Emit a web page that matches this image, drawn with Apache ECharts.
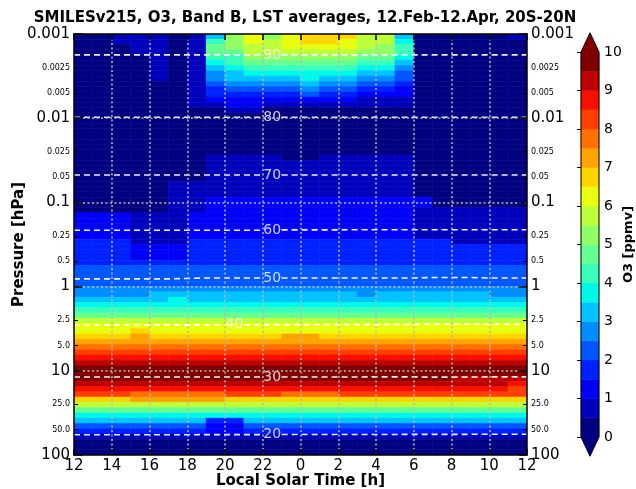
<!DOCTYPE html>
<html>
<head>
<meta charset="utf-8">
<script src="https://cdn.jsdelivr.net/npm/echarts@6/dist/echarts.min.js"></script>
<style>
  html, body { margin: 0; padding: 0; background: #ffffff; }
  #chart { width: 636px; height: 489px; }
</style>
</head>
<body>
<div id="chart"></div>
<script>
const FONT = 'DejaVu Sans';

// Local solar time bins, 1 h wide, starting at 12 h (values >= 24 are the next day)
const lstBins = [12, 13, 14, 15, 16, 17, 18, 19, 20, 21, 22, 23,
                 24, 25, 26, 27, 28, 29, 30, 31, 32, 33, 34, 35];

// Retrieval pressure grid: rows from 0.001 hPa downwards, 16 rows per decade
const gridTopHpa = 0.001;
const levelsPerDecade = 16;

// O3 volume mixing ratio [ppmv], one row per pressure level, 24 LST columns
const o3Mesosphere = [
  [0.3, 0.3, 0.8, 0.8, 0.8, 0.3, 0.8, 3.3, 5.3, 6.3, 5.3, 6.3, 6.8, 6.8, 6.8, 5.8, 5.8, 3.3, 0.3, 0.3, 0.3, 0.3, 0.3, 0.8],
  [0.3, 0.3, 0.8, 0.8, 0.8, 0.3, 0.8, 4.3, 5.3, 6.3, 5.8, 6.3, 6.8, 6.8, 6.3, 5.8, 5.8, 3.8, 0.3, 0.3, 0.3, 0.3, 0.3, 0.3],
  [0.3, 0.3, 0.3, 0.8, 0.8, 0.3, 0.8, 4.8, 5.3, 5.8, 5.8, 6.3, 6.3, 6.3, 6.3, 5.8, 5.3, 4.3, 0.3, 0.3, 0.3, 0.3, 0.3, 0.3],
  [0.3, 0.3, 0.3, 0.8, 0.8, 0.3, 0.8, 4.8, 4.8, 5.8, 5.8, 5.8, 5.8, 5.8, 5.8, 5.3, 5.3, 4.3, 0.3, 0.3, 0.3, 0.3, 0.3, 0.3],
  [0.3, 0.3, 0.3, 0.3, 0.8, 0.3, 0.8, 4.3, 4.3, 5.3, 5.3, 5.3, 5.3, 5.3, 5.3, 4.8, 4.8, 3.8, 0.3, 0.3, 0.3, 0.3, 0.3, 0.3],
  [0.3, 0.3, 0.3, 0.3, 0.8, 0.3, 0.8, 3.8, 4.3, 4.8, 4.8, 4.8, 4.8, 4.8, 4.8, 4.3, 4.3, 3.3, 0.3, 0.3, 0.3, 0.3, 0.3, 0.3],
  [0.3, 0.3, 0.3, 0.3, 0.8, 0.3, 0.8, 3.3, 3.8, 4.3, 4.3, 4.3, 4.3, 4.3, 4.3, 3.8, 3.8, 2.8, 0.3, 0.3, 0.3, 0.3, 0.3, 0.3],
  [0.3, 0.3, 0.3, 0.3, 0.8, 0.3, 0.8, 2.8, 3.3, 3.8, 3.8, 3.8, 3.8, 3.8, 3.8, 3.3, 3.3, 2.3, 0.3, 0.3, 0.3, 0.3, 0.3, 0.3],
  [0.3, 0.3, 0.3, 0.3, 0.8, 0.3, 0.8, 2.8, 3.3, 3.3, 3.3, 3.3, 3.8, 3.3, 3.3, 2.8, 2.8, 2.3, 0.3, 0.3, 0.3, 0.3, 0.3, 0.3],
  [0.3, 0.3, 0.3, 0.3, 0.3, 0.3, 0.8, 2.3, 2.8, 2.8, 2.8, 2.8, 3.3, 2.8, 2.8, 2.3, 2.3, 1.8, 0.3, 0.3, 0.3, 0.3, 0.3, 0.3],
  [0.3, 0.3, 0.3, 0.3, 0.3, 0.3, 0.8, 1.8, 2.3, 2.3, 2.3, 2.3, 2.8, 2.3, 2.3, 1.8, 1.8, 1.3, 0.3, 0.3, 0.3, 0.3, 0.3, 0.3],
  [0.3, 0.3, 0.3, 0.3, 0.3, 0.3, 0.8, 1.8, 1.8, 1.8, 1.8, 1.8, 2.3, 1.8, 1.8, 1.3, 1.3, 1.3, 0.3, 0.3, 0.3, 0.3, 0.3, 0.3],
  [0.3, 0.3, 0.3, 0.3, 0.3, 0.3, 0.8, 1.3, 1.3, 1.3, 1.3, 1.3, 1.3, 1.3, 1.3, 0.8, 0.8, 0.8, 0.3, 0.3, 0.3, 0.3, 0.3, 0.3],
  [0.3, 0.3, 0.3, 0.3, 0.3, 0.3, 0.8, 0.8, 1.3, 1.3, 0.8, 0.8, 0.8, 0.8, 0.8, 0.8, 0.8, 0.8, 0.3, 0.3, 0.3, 0.3, 0.3, 0.3],
  [0.3, 0.3, 0.3, 0.3, 0.3, 0.3, 0.3, 0.3, 0.8, 0.8, 0.3, 0.3, 0.3, 0.3, 0.3, 0.3, 0.3, 0.3, 0.3, 0.3, 0.3, 0.3, 0.3, 0.3],
  [0.3, 0.3, 0.3, 0.3, 0.3, 0.3, 0.3, 0.3, 0.3, 0.3, 0.3, 0.3, 0.3, 0.3, 0.3, 0.3, 0.3, 0.3, 0.3, 0.3, 0.3, 0.3, 0.3, 0.3],
  [0.3, 0.3, 0.3, 0.3, 0.3, 0.3, 0.3, 0.3, 0.3, 0.3, 0.3, 0.3, 0.3, 0.3, 0.3, 0.3, 0.3, 0.3, 0.3, 0.3, 0.3, 0.3, 0.3, 0.3],
  [0.3, 0.3, 0.3, 0.3, 0.3, 0.3, 0.3, 0.3, 0.3, 0.3, 0.3, 0.3, 0.3, 0.3, 0.3, 0.3, 0.3, 0.3, 0.3, 0.3, 0.3, 0.3, 0.3, 0.3],
  [0.3, 0.3, 0.3, 0.3, 0.3, 0.3, 0.3, 0.3, 0.3, 0.3, 0.3, 0.3, 0.3, 0.3, 0.3, 0.3, 0.3, 0.3, 0.3, 0.3, 0.3, 0.3, 0.3, 0.3],
  [0.3, 0.3, 0.3, 0.3, 0.3, 0.3, 0.3, 0.3, 0.3, 0.3, 0.3, 0.3, 0.3, 0.3, 0.3, 0.3, 0.3, 0.3, 0.3, 0.3, 0.3, 0.3, 0.3, 0.3],
  [0.3, 0.3, 0.3, 0.3, 0.3, 0.3, 0.3, 0.3, 0.3, 0.3, 0.3, 0.3, 0.3, 0.3, 0.3, 0.3, 0.3, 0.3, 0.3, 0.3, 0.3, 0.3, 0.3, 0.3],
  [0.3, 0.3, 0.3, 0.3, 0.3, 0.3, 0.3, 0.3, 0.3, 0.3, 0.3, 0.3, 0.3, 0.3, 0.3, 0.3, 0.3, 0.3, 0.3, 0.3, 0.3, 0.3, 0.3, 0.3],
  [0.3, 0.3, 0.3, 0.3, 0.3, 0.3, 0.3, 0.3, 0.3, 0.3, 0.3, 0.3, 0.3, 0.3, 0.3, 0.3, 0.3, 0.3, 0.3, 0.3, 0.3, 0.3, 0.3, 0.3],
  [0.3, 0.3, 0.3, 0.3, 0.3, 0.3, 0.3, 0.8, 0.8, 0.8, 0.8, 0.3, 0.3, 0.8, 0.8, 0.8, 0.8, 0.8, 0.3, 0.3, 0.3, 0.3, 0.3, 0.3],
  [0.3, 0.3, 0.3, 0.3, 0.3, 0.3, 0.3, 0.8, 0.8, 0.8, 0.8, 0.8, 0.8, 0.8, 0.8, 0.8, 0.8, 0.8, 0.3, 0.3, 0.3, 0.3, 0.3, 0.3],
  [0.3, 0.3, 0.3, 0.3, 0.3, 0.3, 0.3, 0.8, 0.8, 0.8, 0.8, 0.8, 0.8, 0.8, 0.8, 0.8, 0.8, 0.8, 0.3, 0.3, 0.3, 0.3, 0.3, 0.3],
  [0.3, 0.3, 0.3, 0.3, 0.3, 0.3, 0.3, 0.8, 0.8, 0.8, 0.8, 0.8, 0.8, 0.8, 0.8, 0.8, 0.8, 0.8, 0.3, 0.3, 0.3, 0.3, 0.3, 0.3],
  [0.3, 0.3, 0.3, 0.3, 0.3, 0.3, 0.3, 0.8, 0.8, 0.8, 0.8, 0.8, 0.8, 0.8, 0.8, 0.8, 0.8, 0.8, 0.3, 0.3, 0.3, 0.3, 0.3, 0.3],
  [0.3, 0.3, 0.3, 0.3, 0.3, 0.8, 0.8, 0.8, 0.8, 0.8, 0.8, 0.8, 0.8, 0.8, 0.8, 0.8, 0.8, 0.8, 0.3, 0.3, 0.3, 0.3, 0.3, 0.3],
  [0.3, 0.3, 0.3, 0.3, 0.3, 0.8, 0.8, 0.8, 0.8, 0.8, 0.8, 0.8, 0.8, 0.8, 0.8, 0.8, 0.8, 0.8, 0.3, 0.3, 0.3, 0.3, 0.3, 0.3],
  [0.3, 0.3, 0.3, 0.3, 0.3, 0.8, 0.8, 0.8, 0.8, 0.8, 0.8, 0.8, 0.8, 0.8, 0.8, 0.8, 0.8, 0.8, 0.3, 0.3, 0.3, 0.3, 0.3, 0.3],
  [0.3, 0.3, 0.3, 0.3, 0.3, 0.8, 0.8, 1.3, 1.3, 1.3, 1.3, 1.3, 1.3, 1.3, 1.3, 1.3, 1.3, 1.3, 1.3, 0.3, 0.3, 0.3, 0.3, 0.3]
];

const o3UpperStratosphere = [
  [0.3, 0.3, 0.3, 0.3, 0.3, 0.8, 0.8, 1.3, 1.3, 1.3, 1.3, 1.3, 1.3, 1.3, 1.3, 1.3, 1.3, 1.3, 1.3, 0.3, 0.3, 0.3, 0.3, 0.3],
  [0.3, 0.3, 0.3, 0.3, 0.3, 0.8, 0.8, 1.3, 1.3, 1.3, 1.3, 1.3, 1.3, 1.3, 1.3, 1.3, 1.3, 1.3, 0.8, 0.8, 0.8, 0.8, 0.8, 0.8],
  [1.3, 1.3, 1.3, 0.8, 0.8, 0.8, 1.3, 1.3, 1.3, 1.3, 1.3, 1.3, 1.3, 1.3, 1.3, 1.3, 1.3, 1.3, 0.8, 0.8, 0.8, 0.8, 0.8, 0.8],
  [1.3, 1.3, 1.3, 0.8, 0.8, 0.8, 1.3, 1.3, 1.3, 1.3, 1.3, 1.3, 1.3, 1.3, 1.3, 1.3, 1.3, 1.3, 0.8, 0.8, 0.8, 0.8, 0.8, 0.8],
  [1.3, 1.3, 1.3, 0.8, 0.8, 0.8, 1.3, 1.3, 1.3, 1.3, 1.3, 1.3, 1.3, 1.3, 1.3, 1.3, 1.3, 1.3, 0.8, 0.8, 0.8, 0.8, 0.8, 0.8],
  [1.3, 1.3, 1.3, 0.8, 0.8, 0.8, 1.3, 1.3, 1.3, 1.3, 1.3, 1.3, 1.3, 1.3, 1.3, 1.3, 1.3, 1.3, 0.8, 0.8, 0.8, 0.8, 0.8, 0.8],
  [1.3, 1.3, 1.3, 0.8, 0.8, 0.8, 1.3, 1.3, 1.3, 1.3, 1.3, 1.3, 1.3, 1.3, 1.3, 1.3, 1.3, 1.3, 0.8, 0.8, 0.8, 0.8, 0.8, 0.8],
  [1.8, 1.8, 1.8, 0.8, 0.8, 0.8, 1.8, 1.8, 1.8, 1.8, 1.8, 1.8, 1.8, 1.8, 1.8, 1.8, 1.8, 1.8, 1.8, 1.8, 0.8, 0.8, 0.8, 0.8],
  [1.8, 1.8, 1.8, 1.3, 1.3, 1.3, 1.8, 1.8, 1.8, 1.8, 1.8, 1.8, 1.8, 1.8, 1.8, 1.8, 1.8, 1.8, 1.8, 1.8, 1.8, 1.8, 1.8, 1.8],
  [1.8, 1.8, 1.8, 1.3, 1.3, 1.3, 1.8, 1.8, 1.8, 1.8, 1.8, 1.8, 1.8, 1.8, 1.8, 1.8, 1.8, 1.8, 1.8, 1.8, 1.8, 1.8, 1.8, 1.8],
  [1.8, 1.8, 1.8, 1.3, 1.3, 1.3, 1.8, 1.8, 1.8, 1.8, 1.8, 1.8, 1.8, 1.8, 1.8, 1.8, 1.8, 1.8, 1.8, 1.8, 1.8, 1.8, 1.8, 1.8],
  [1.8, 1.8, 1.8, 1.8, 1.8, 1.8, 1.8, 1.8, 1.8, 1.8, 1.8, 1.8, 1.8, 1.8, 1.8, 1.8, 1.8, 1.8, 1.8, 1.8, 1.8, 1.8, 1.8, 1.8],
  [2.3, 2.3, 2.3, 2.3, 2.3, 2.3, 2.3, 2.3, 2.3, 2.3, 2.3, 2.3, 2.3, 2.3, 2.3, 2.3, 2.3, 2.3, 2.3, 2.3, 2.3, 2.3, 2.3, 2.3],
  [2.3, 2.3, 2.3, 2.3, 2.3, 2.3, 2.3, 2.3, 2.3, 2.3, 2.3, 2.3, 2.3, 2.3, 2.3, 2.3, 2.3, 2.3, 2.3, 2.3, 2.3, 2.3, 2.3, 2.3],
  [2.3, 2.3, 2.3, 2.3, 2.3, 2.3, 2.3, 2.3, 2.3, 2.3, 2.3, 2.3, 2.3, 2.3, 2.3, 2.3, 2.3, 2.3, 2.3, 2.3, 2.3, 2.3, 2.3, 2.3],
  [2.3, 2.3, 2.3, 2.3, 2.3, 2.3, 2.3, 2.3, 2.3, 2.3, 2.3, 2.3, 2.3, 2.3, 2.3, 2.3, 2.3, 2.3, 2.3, 2.3, 2.3, 2.3, 2.3, 2.3],
  [2.8, 2.8, 2.8, 2.8, 2.8, 2.8, 2.8, 2.8, 2.8, 2.8, 2.8, 2.8, 2.8, 2.8, 2.8, 2.8, 2.8, 2.8, 2.8, 2.8, 2.8, 2.8, 2.8, 2.8],
  [2.8, 2.8, 2.8, 2.8, 3.3, 3.3, 3.3, 3.3, 3.3, 3.3, 3.3, 3.3, 3.3, 3.3, 3.3, 2.8, 3.3, 3.3, 3.3, 3.3, 3.3, 3.3, 2.8, 2.8],
  [3.3, 3.3, 3.3, 3.3, 3.3, 3.8, 3.3, 3.3, 3.3, 3.3, 3.3, 3.3, 3.3, 3.3, 3.3, 3.3, 3.3, 3.3, 3.3, 3.3, 3.3, 3.3, 3.3, 3.3],
  [3.8, 3.8, 3.8, 3.8, 3.8, 3.8, 3.8, 3.8, 3.8, 3.8, 3.8, 3.8, 3.8, 3.8, 3.8, 3.8, 3.8, 3.8, 3.8, 3.8, 3.8, 3.8, 3.8, 3.8],
  [4.3, 4.3, 4.3, 4.3, 4.3, 4.3, 4.3, 4.3, 4.3, 4.3, 4.3, 4.3, 4.3, 4.3, 4.3, 4.3, 4.3, 4.3, 4.3, 4.3, 4.3, 4.3, 4.3, 4.3],
  [4.8, 4.8, 4.8, 4.8, 4.8, 4.8, 4.8, 4.8, 4.8, 4.8, 4.8, 4.8, 4.8, 4.8, 4.8, 4.8, 4.8, 4.8, 4.8, 4.8, 4.8, 4.8, 4.8, 4.8],
  [5.8, 5.8, 5.8, 5.8, 5.8, 5.8, 5.8, 5.8, 5.8, 5.8, 5.8, 5.8, 5.8, 5.8, 5.8, 5.8, 5.8, 5.8, 5.8, 5.8, 5.8, 5.8, 5.8, 5.8],
  [6.3, 6.3, 6.3, 6.3, 6.3, 6.3, 6.3, 6.3, 6.3, 6.3, 6.3, 6.3, 6.3, 6.3, 6.3, 6.3, 6.3, 6.3, 6.3, 6.3, 6.3, 6.3, 6.3, 6.3]
];

const o3LowerStratosphere = [
  [6.3, 6.3, 6.3, 6.8, 6.3, 6.3, 6.3, 6.3, 6.3, 6.3, 6.3, 6.3, 6.3, 6.3, 6.3, 6.3, 6.3, 6.3, 6.3, 6.3, 6.3, 6.3, 6.3, 6.3],
  [6.8, 6.8, 6.8, 7.3, 6.8, 6.8, 6.8, 6.8, 6.8, 6.8, 6.8, 7.3, 7.3, 6.8, 6.8, 6.8, 6.8, 6.8, 6.8, 6.8, 6.8, 6.8, 6.8, 6.8],
  [7.3, 7.3, 7.3, 7.3, 7.3, 7.3, 7.3, 7.3, 7.3, 7.3, 7.3, 7.3, 7.3, 7.3, 7.3, 7.3, 7.3, 7.3, 7.3, 7.3, 7.3, 7.3, 7.3, 7.3],
  [7.8, 7.8, 7.8, 7.8, 7.8, 7.8, 7.8, 7.8, 7.8, 7.8, 7.8, 7.8, 7.8, 7.8, 7.8, 7.8, 7.8, 7.8, 7.8, 7.8, 7.8, 7.8, 7.8, 7.8],
  [8.3, 8.3, 8.3, 8.3, 8.3, 8.3, 8.3, 8.3, 8.3, 8.3, 8.3, 8.3, 8.3, 8.3, 8.3, 8.3, 8.3, 8.3, 8.3, 8.3, 8.3, 8.3, 8.3, 8.3],
  [8.8, 8.8, 8.8, 8.8, 8.8, 8.8, 8.8, 8.8, 8.8, 8.8, 8.8, 8.8, 8.8, 8.8, 8.8, 8.8, 8.8, 8.8, 8.8, 8.8, 8.8, 8.8, 8.8, 8.8],
  [9.3, 9.3, 9.3, 9.3, 9.3, 9.3, 9.3, 9.3, 9.3, 9.3, 9.3, 9.3, 9.3, 9.3, 9.3, 9.3, 9.3, 9.3, 9.3, 9.3, 9.3, 9.3, 9.3, 9.3],
  [9.8, 9.8, 9.8, 9.8, 9.8, 9.8, 9.8, 9.8, 9.8, 9.8, 9.8, 9.8, 9.8, 9.8, 9.8, 9.8, 9.8, 9.8, 9.8, 9.8, 9.8, 9.8, 9.8, 9.8],
  [9.8, 9.8, 9.8, 9.8, 9.8, 9.8, 9.8, 9.8, 9.8, 9.8, 9.8, 9.8, 9.8, 9.8, 9.8, 9.8, 9.8, 9.8, 9.8, 9.8, 9.8, 9.8, 9.8, 9.8],
  [9.8, 9.8, 9.8, 9.8, 9.8, 9.8, 9.8, 9.8, 9.8, 9.8, 9.8, 9.8, 9.8, 9.8, 9.8, 9.8, 9.8, 9.8, 9.8, 9.8, 9.3, 9.3, 9.3, 9.3],
  [9.3, 9.3, 9.3, 9.3, 9.3, 9.3, 9.3, 9.3, 9.3, 9.3, 9.3, 9.3, 9.3, 9.3, 9.3, 9.3, 9.3, 9.3, 9.3, 9.3, 9.3, 9.3, 9.3, 8.8],
  [8.8, 8.8, 8.8, 8.8, 8.8, 8.8, 8.8, 8.8, 8.8, 8.8, 8.8, 8.8, 8.8, 8.8, 8.8, 8.8, 8.8, 8.8, 8.8, 8.8, 8.8, 8.8, 8.8, 8.3],
  [8.3, 8.3, 8.3, 7.8, 7.8, 7.8, 7.8, 7.8, 8.3, 8.3, 8.3, 7.8, 7.8, 7.8, 8.3, 8.3, 8.3, 8.3, 8.3, 8.3, 8.3, 8.3, 8.3, 8.3],
  [6.8, 6.8, 6.8, 7.3, 7.3, 7.3, 7.3, 7.3, 6.8, 6.8, 6.8, 6.8, 6.8, 6.8, 6.8, 6.8, 6.8, 6.8, 6.8, 6.8, 6.8, 6.8, 6.8, 6.8],
  [5.8, 5.8, 5.8, 5.8, 5.8, 5.8, 5.8, 5.8, 5.8, 5.8, 5.8, 5.8, 5.8, 5.8, 5.8, 5.8, 5.8, 5.8, 5.8, 5.8, 5.8, 5.8, 5.8, 5.8],
  [4.8, 4.8, 4.8, 4.8, 4.8, 4.8, 4.8, 4.8, 4.8, 4.8, 4.8, 4.8, 4.8, 4.8, 4.8, 4.8, 4.8, 4.8, 4.8, 4.8, 4.8, 4.8, 4.8, 4.8],
  [3.8, 3.8, 3.8, 3.8, 3.8, 3.8, 3.8, 3.8, 3.8, 3.8, 3.8, 3.8, 3.8, 3.8, 3.8, 3.8, 3.8, 3.8, 3.8, 3.8, 3.8, 3.8, 3.8, 3.8],
  [3.3, 3.3, 3.3, 3.3, 3.3, 3.3, 3.3, 1.8, 1.8, 3.3, 3.3, 3.3, 3.3, 3.3, 3.3, 3.3, 3.3, 3.3, 3.3, 3.3, 3.3, 3.3, 3.3, 3.3],
  [2.3, 2.3, 2.3, 2.3, 2.3, 2.3, 2.3, 1.3, 1.3, 2.3, 2.3, 2.3, 2.3, 2.3, 2.3, 2.3, 2.3, 2.3, 2.3, 2.3, 2.3, 2.3, 2.3, 2.3],
  [1.8, 1.8, 1.8, 1.8, 1.8, 1.8, 1.8, 1.3, 1.3, 1.8, 1.8, 1.8, 1.8, 1.8, 1.8, 1.8, 1.8, 1.8, 1.8, 1.8, 1.8, 1.8, 1.8, 1.8],
  [0.8, 0.8, 0.8, 0.8, 0.8, 0.8, 0.8, 0.8, 0.8, 0.8, 0.8, 0.8, 0.8, 0.8, 0.8, 0.8, 0.8, 0.8, 0.8, 0.8, 0.8, 0.8, 0.8, 0.8],
  [0.3, 0.3, 0.3, 0.3, 0.3, 0.3, 0.3, 0.3, 0.3, 0.3, 0.3, 0.3, 0.3, 0.3, 0.3, 0.3, 0.3, 0.3, 0.3, 0.3, 0.3, 0.3, 0.3, 0.3],
  [0.3, 0.3, 0.3, 0.3, 0.3, 0.3, 0.3, 0.3, 0.3, 0.3, 0.3, 0.3, 0.3, 0.3, 0.3, 0.3, 0.3, 0.3, 0.3, 0.3, 0.3, 0.3, 0.3, 0.3],
  [0.3, 0.3, 0.3, 0.3, 0.3, 0.3, 0.3, 0.3, 0.3, 0.3, 0.3, 0.3, 0.3, 0.3, 0.3, 0.3, 0.3, 0.3, 0.3, 0.3, 0.3, 0.3, 0.3, 0.3]
];

// Filled colour levels [ppmv] and their colours (jet, 20 bands)
const o3Levels = [0, 0.5, 1, 1.5, 2, 2.5, 3, 3.5, 4, 4.5, 5, 5.5, 6, 6.5, 7, 7.5, 8, 8.5, 9, 9.5, 10];
const jetColors = ['#000080', '#0000bc', '#0000f9', '#0021ff', '#0057ff', '#008dff', '#00c3ff',
                   '#00f8e8', '#3affbc', '#66ff91', '#91ff66', '#bcff3a', '#e8ff0f', '#ffd500',
                   '#ffa300', '#ff7200', '#ff4000', '#f90f00', '#bd0000', '#800000'];
const colorbarTicks = [0, 1, 2, 3, 4, 5, 6, 7, 8, 9, 10];

// Pressure axis ticks and labels [hPa]
const pressureTicks = [0.001, 0.0025, 0.005, 0.01, 0.025, 0.05, 0.1, 0.25, 0.5, 1, 2.5, 5, 10, 25, 50, 100];
const pressureTickLabels = ['0.001', '0.0025', '0.005', '0.01', '0.025', '0.05', '0.1', '0.25', '0.5',
                            '1', '2.5', '5.0', '10', '25.0', '50.0', '100'];
const pressureDecades = [0.001, 0.01, 0.1, 1, 10, 100];
const pressureMinor = [0.0025, 0.005, 0.025, 0.05, 0.25, 0.5, 2.5, 5, 25, 50];

// Geometric altitude contours [km]: pressure [hPa] at each hour from 12 h to 36 h
const contourLst = [12, 13, 14, 15, 16, 17, 18, 19, 20, 21, 22, 23, 24,
                    25, 26, 27, 28, 29, 30, 31, 32, 33, 34, 35, 36];
const altitudeKm = [90, 80, 70, 60, 50, 40, 30, 20];
const altitudePressure = [
  [0.00177, 0.00177, 0.00177, 0.00177, 0.00177, 0.00177, 0.00177, 0.00177, 0.00177, 0.00177, 0.00177, 0.00177, 0.00177,
   0.00177, 0.00177, 0.00177, 0.00177, 0.00177, 0.00177, 0.00177, 0.00177, 0.00177, 0.00177, 0.00177, 0.00177],
  [0.00976, 0.00976, 0.00976, 0.00976, 0.00976, 0.00976, 0.00976, 0.00976, 0.00976, 0.00976, 0.00976, 0.00976, 0.00976,
   0.00976, 0.00976, 0.00976, 0.00976, 0.00976, 0.00976, 0.00976, 0.00976, 0.00976, 0.00976, 0.00976, 0.00976],
  [0.0473, 0.0473, 0.0473, 0.0473, 0.0473, 0.0473, 0.0473, 0.0473, 0.0473, 0.0473, 0.0473, 0.0473, 0.0473,
   0.0473, 0.0473, 0.0473, 0.0473, 0.0473, 0.0473, 0.0473, 0.0473, 0.0473, 0.0473, 0.0473, 0.0473],
  [0.214, 0.214, 0.214, 0.214, 0.214, 0.214, 0.214, 0.214, 0.214, 0.214, 0.214, 0.212, 0.212,
   0.212, 0.212, 0.211, 0.211, 0.211, 0.211, 0.211, 0.211, 0.211, 0.211, 0.211, 0.211],
  [0.81, 0.81, 0.81, 0.81, 0.81, 0.81, 0.80, 0.79, 0.79, 0.79, 0.79, 0.79, 0.79,
   0.79, 0.79, 0.79, 0.79, 0.79, 0.79, 0.78, 0.78, 0.78, 0.79, 0.79, 0.79],
  [2.86, 2.86, 2.86, 2.86, 2.85, 2.85, 2.85, 2.84, 2.84, 2.84, 2.83, 2.83, 2.83,
   2.82, 2.82, 2.82, 2.81, 2.81, 2.81, 2.80, 2.80, 2.80, 2.80, 2.80, 2.80],
  [11.85, 11.85, 11.85, 11.85, 11.85, 11.85, 11.85, 11.85, 11.85, 11.85, 11.85, 11.85, 11.85,
   11.85, 11.85, 11.85, 11.8, 11.8, 11.8, 11.9, 11.9, 11.9, 11.8, 11.8, 11.8],
  [57.4, 57.4, 57.4, 57.4, 57.4, 57.4, 57.4, 57.3, 57.3, 57.3, 57.2, 57.2, 57.2,
   57.1, 57.1, 57.0, 57.0, 57.0, 56.9, 56.9, 56.9, 56.8, 56.8, 56.8, 56.8]
];
// Hour after which the inline label interrupts each contour
const altitudeLabelHour = [22, 22, 22, 22, 22, 20, 22, 22];

// ---------------------------------------------------------------------------

const o3Rows = o3Mesosphere.concat(o3UpperStratosphere, o3LowerStratosphere);
const cellData = [];
o3Rows.forEach(function (row, i) {
  const pTop = gridTopHpa * Math.pow(10, i / levelsPerDecade);
  const pBottom = gridTopHpa * Math.pow(10, (i + 1) / levelsPerDecade);
  row.forEach(function (v, j) { cellData.push([lstBins[j], pTop, pBottom, v]); });
});

function pressureLabel(v) {
  let best = 0, bestErr = Infinity;
  pressureTicks.forEach(function (t, i) {
    const e = Math.abs(Math.log10(v) - Math.log10(t));
    if (e < bestErr) { bestErr = e; best = i; }
  });
  const text = pressureTickLabels[best];
  return pressureDecades.indexOf(pressureTicks[best]) >= 0 ? '{major|' + text + '}' : '{minor|' + text + '}';
}

const labelRich = {
  major: { fontFamily: FONT, fontSize: 15, color: '#000' },
  minor: { fontFamily: FONT, fontSize: 8, color: '#000' }
};

const boldName = { fontFamily: FONT, fontSize: 15, fontWeight: 'bold', color: '#000' };

function pressureAxis(position, withLabels, tickValues, tickLen, withLine, withSplit, name) {
  const ax = {
    gridIndex: 0, type: 'log', logBase: 10, min: 0.001, max: 100, inverse: true,
    position: position, z: 10,
    axisLine: { show: withLine, onZero: false, lineStyle: { color: '#000', width: 1.5 } },
    axisTick: { show: true, inside: true, length: tickLen, customValues: tickValues,
                lineStyle: { color: '#000', width: tickLen > 5 ? 1.5 : 1 } },
    axisLabel: withLabels
      ? { show: true, customValues: pressureTicks, margin: 4, formatter: pressureLabel, rich: labelRich }
      : { show: false },
    splitLine: withSplit
      ? { show: true, showMinLine: false, showMaxLine: false,
          lineStyle: { color: '#b8b8b8', width: 1.5, type: [2, 2.5] } }
      : { show: false }
  };
  if (name) {
    ax.name = name;
    ax.nameLocation = 'middle';
    ax.nameGap = 47;
    ax.nameRotate = 90;
    ax.nameMoveOverlap = false;
    ax.nameTextStyle = boldName;
  }
  return ax;
}

const contourSeries = [];
altitudeKm.forEach(function (km, k) {
  const pts = [];
  contourLst.forEach(function (t, i) {
    pts.push([t, altitudePressure[k][i]]);
    if (t === altitudeLabelHour[k]) pts.push([t + 0.5, '-']);
  });
  contourSeries.push({
    type: 'line', xAxisIndex: 0, yAxisIndex: 0, data: pts, z: 4,
    symbol: 'none', connectNulls: false, silent: true, animation: false,
    lineStyle: { color: 'rgba(255,255,255,0.92)', width: 1.6, type: [6, 4] }
  });
});

const contourLabelData = altitudeKm.map(function (km, k) {
  const i = contourLst.indexOf(altitudeLabelHour[k]);
  return [altitudeLabelHour[k] + 0.5, altitudePressure[k][i], km];
});

const colorbarData = jetColors.map(function (c, k) { return [o3Levels[k], o3Levels[k + 1], k]; });
const extendSpan = 0.5; // triangle length in ppmv units

const chart = echarts.init(document.getElementById('chart'), null, { renderer: 'canvas' });

chart.setOption({
  animation: false,
  backgroundColor: '#ffffff',
  title: {
    text: 'SMILESv215, O3, Band B, LST averages, 12.Feb-12.Apr, 20S-20N',
    left: 300, top: 6, textAlign: 'center',
    textStyle: { fontFamily: FONT, fontSize: 15, fontWeight: 'bold', color: '#000' }
  },
  grid: [
    { left: 74, top: 34, width: 453, height: 421, containLabel: false, outerBoundsMode: 'none' },
    { left: 581, top: 52, width: 18, height: 385, containLabel: false, outerBoundsMode: 'none' }
  ],
  visualMap: {
    type: 'piecewise', show: false, seriesIndex: 0, dimension: 3,
    pieces: jetColors.map(function (c, k) { return { gte: o3Levels[k], lt: o3Levels[k + 1], color: c }; })
  },
  xAxis: [
    {
      gridIndex: 0, type: 'value', min: 12, max: 36, interval: 2, position: 'bottom', z: 10,
      axisLine: { show: true, onZero: false, lineStyle: { color: '#000', width: 1.5 } },
      axisTick: { show: true, inside: true, length: 6, lineStyle: { color: '#000', width: 1.5 } },
      axisLabel: { fontFamily: FONT, fontSize: 15, color: '#000', margin: 4,
                   formatter: function (v) { return String(v % 24); } },
      splitLine: { show: true, showMinLine: false, showMaxLine: false,
                   lineStyle: { color: '#b8b8b8', width: 1.5, type: [2, 2.5] } },
      name: 'Local Solar Time [h]', nameLocation: 'middle', nameGap: 19, nameMoveOverlap: false,
      nameTextStyle: boldName
    },
    {
      gridIndex: 0, type: 'value', min: 12, max: 36, interval: 2, position: 'top', z: 10,
      axisLine: { show: true, onZero: false, lineStyle: { color: '#000', width: 1.5 } },
      axisTick: { show: true, inside: true, length: 6, lineStyle: { color: '#000', width: 1.5 } },
      axisLabel: { show: false }, splitLine: { show: false }
    },
    { gridIndex: 1, type: 'value', min: 0, max: 1, show: false }
  ],
  yAxis: [
    pressureAxis('left', true, pressureDecades, 8, true, true, 'Pressure [hPa]'),
    pressureAxis('left', false, pressureMinor, 4, false, false),
    pressureAxis('right', true, pressureDecades, 8, true, false),
    pressureAxis('right', false, pressureMinor, 4, false, false),
    {
      gridIndex: 1, type: 'value', min: 0, max: 10, interval: 1, position: 'right', z: 10,
      axisLine: { show: false },
      axisTick: { show: true, inside: true, length: 4, customValues: colorbarTicks,
                  lineStyle: { color: '#000', width: 1 } },
      axisLabel: { fontFamily: FONT, fontSize: 14, color: '#000', margin: 5 },
      splitLine: { show: false },
      name: 'O3 [ppmv]', nameLocation: 'middle', nameGap: 23, nameRotate: 90, nameMoveOverlap: false,
      nameTextStyle: { fontFamily: FONT, fontSize: 13, fontWeight: 'bold', color: '#000' }
    }
  ],
  series: [
    {
      type: 'custom', xAxisIndex: 0, yAxisIndex: 0, data: cellData, clip: true, z: 2,
      dimensions: ['lst', 'pTop', 'pBottom', 'o3'],
      encode: { x: 0, y: [1, 2] },
      silent: true,
      renderItem: function (params, api) {
        const a = api.coord([api.value(0), api.value(1)]);
        const b = api.coord([api.value(0) + 1, api.value(2)]);
        const c = api.visual('color');
        return {
          type: 'rect',
          shape: { x: a[0], y: a[1], width: b[0] - a[0], height: b[1] - a[1] },
          style: { fill: c, stroke: c, lineWidth: 0.6 }
        };
      }
    }
  ].concat(contourSeries, [
    {
      type: 'scatter', xAxisIndex: 0, yAxisIndex: 0, data: contourLabelData, z: 5,
      symbolSize: 1, itemStyle: { color: 'rgba(0,0,0,0)' }, silent: true,
      label: {
        show: true, position: 'inside', color: '#ffffff', fontFamily: FONT, fontSize: 14,
        formatter: function (p) { return String(p.value[2]); }
      }
    },
    {
      type: 'custom', xAxisIndex: 2, yAxisIndex: 4, data: colorbarData, clip: false, z: 2, silent: true,
      renderItem: function (params, api) {
        const a = api.coord([0, api.value(1)]);
        const b = api.coord([1, api.value(0)]);
        const c = jetColors[api.value(2)];
        return {
          type: 'rect',
          shape: { x: a[0], y: a[1], width: b[0] - a[0], height: b[1] - a[1] },
          style: { fill: c, stroke: c, lineWidth: 0.5 }
        };
      }
    },
    {
      type: 'custom', xAxisIndex: 2, yAxisIndex: 4, clip: false, z: 3, silent: true,
      data: [[o3Levels[0], o3Levels[o3Levels.length - 1]]],
      renderItem: function (params, api) {
        const lo = api.value(0), hi = api.value(1);
        const p = function (x, y) { return api.coord([x, y]); };
        return {
          type: 'group',
          children: [
            { type: 'polygon', shape: { points: [p(0, lo), p(1, lo), p(0.5, lo - extendSpan)] },
              style: { fill: jetColors[0] } },
            { type: 'polygon', shape: { points: [p(0, hi), p(1, hi), p(0.5, hi + extendSpan)] },
              style: { fill: jetColors[jetColors.length - 1] } },
            { type: 'polygon',
              shape: { points: [p(0, lo), p(0.5, lo - extendSpan), p(1, lo), p(1, hi),
                                p(0.5, hi + extendSpan), p(0, hi)] },
              style: { fill: 'none', stroke: '#000', lineWidth: 1 } }
          ]
        };
      }
    }
  ])
});
</script>
</body>
</html>
